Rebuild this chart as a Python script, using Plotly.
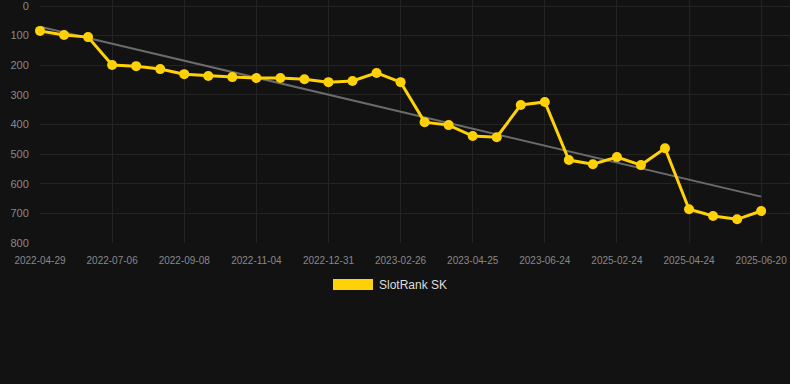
import numpy as np
import plotly.graph_objects as go

tick_labels = ["2022-04-29", "2022-07-06", "2022-09-08", "2022-11-04", "2022-12-31",
               "2023-02-26", "2023-04-25", "2023-06-24", "2025-02-24", "2025-04-24", "2025-06-20"]
rank = [84, 98, 105, 199, 203, 213, 230, 236, 240, 243, 243, 247, 257, 253, 226, 257,
        392, 402, 439, 443, 334, 324, 520, 534, 510, 537, 480, 686, 709, 720, 692]
series_name = "SlotRank SK"

idx = np.arange(len(rank))
slope, intercept = np.polyfit(idx, rank, 1)
trend = [intercept, intercept + slope * idx[-1]]

fig = go.Figure()
fig.add_trace(go.Scatter(x=[idx[0], idx[-1]], y=trend, mode="lines",
                         line=dict(color="#6b6b6b", width=2), showlegend=False, hoverinfo="skip"))
fig.add_trace(go.Scatter(x=idx, y=rank, mode="lines+markers", name=series_name,
                         line=dict(color="#FFD208", width=3), cliponaxis=False,
                         marker=dict(color="#FFD208", size=10), showlegend=False))

# plot area: x 40..790, y 0..243 px; y-units: 0 at 6px, 800 at 243px
y_top = -6 * 800 / 237

# legend drawn manually
fig.add_shape(type="rect", xref="paper", yref="paper", x0=(333-40)/750, x1=(373-40)/750,
              y0=(243-290)/243, y1=(243-279)/243, fillcolor="#FFD208", line=dict(width=0))
fig.add_annotation(xref="paper", yref="paper", x=(377-40)/750, y=(243-284.5)/243,
                   text=series_name, showarrow=False, xanchor="left", yanchor="middle",
                   font=dict(color="#dddddd", size=12))

fig.update_layout(
    width=790, height=384, margin=dict(l=40, r=0, t=0, b=141),
    paper_bgcolor="#121212", plot_bgcolor="#121212",
    font=dict(family="Liberation Sans, Arial, sans-serif", color="#888888"),
    showlegend=False,
    xaxis=dict(range=[0, 31.2], tickvals=list(range(0, len(rank), 3)), ticktext=tick_labels,
               showgrid=True, gridcolor="#232323", gridwidth=1, zeroline=False,
               tickfont=dict(size=10, color="#888888"), ticks="outside", ticklen=8,
               tickcolor="rgba(0,0,0,0)", showline=False, ticklabeloverflow="allow"),
    yaxis=dict(range=[800, y_top], tickvals=[0, 100, 200, 300, 400, 500, 600, 700, 800],
               showgrid=True, gridcolor="#232323", gridwidth=1, zeroline=False,
               tickfont=dict(size=11, color="#888888"), ticks="outside", ticklen=8,
               tickcolor="rgba(0,0,0,0)", showline=False, ticklabeloverflow="allow"),
)
fig.write_html("out.html")
